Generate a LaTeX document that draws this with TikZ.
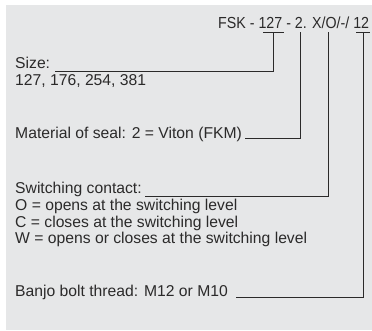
\documentclass[tikz,border=0pt]{standalone}
\usepackage{fontspec}
\setmainfont{Liberation Sans}
\newfontfamily\titlefont[FakeStretch=0.89]{Liberation Sans}
\definecolor{bg}{HTML}{E6E7E8}
\definecolor{ink}{HTML}{2B2A2A}
\begin{document}
\begin{tikzpicture}[x=1pt,y=-1pt,
  lbl/.style={anchor=base west,inner sep=0pt,text=ink,font=\fontsize{15.7}{16.4}\selectfont,align=left},
  ttl/.style={anchor=base west,inner sep=0pt,text=ink,font=\titlefont\fontsize{16}{18}\selectfont},
  lead/.style={draw=ink,line width=0.9pt}]
\useasboundingbox (0,0) rectangle (372,330);
\fill[bg] (6,5) rectangle (372,330);
\node[ttl] (code) at (218,28) {FSK - 127 - 2. X/O/-/ 12};
\coordinate (u1a) at (263,32.3);
\coordinate (u1b) at (284,32.3);
\coordinate (v1) at (273.3,32.3);
\coordinate (v2) at (300,32.3);
\coordinate (v3) at (328.3,32.3);
\coordinate (u4a) at (356,32.3);
\coordinate (u4b) at (370,32.3);
\coordinate (v4) at (363.3,32.3);
\node[lbl] (size) at (15,68.5) {Size:};
\node[lbl] (sizev) at (15,85.5) {127, 176, 254, 381};
\node[lbl] (mat) at (15,138) {Material of seal: 2 = Viton (FKM)};
\node[lbl] (sw) at (15,193.5) {Switching contact:};
\node[lbl] (o) at (15,210.5) {O = opens at the switching level};
\node[lbl] (c) at (15,227) {C = closes at the switching level};
\node[lbl] (w) at (15,243.5) {W = opens or closes at the switching level};
\node[lbl] (banjo) at (15,296) {Banjo bolt thread: M12 or M10};
\draw[lead] (u1a) -- (u1b);
\draw[lead] (u4a) -- (u4b);
\draw[lead] (v1) |- ([xshift=5pt,yshift=-2.5pt]size.base east);
\draw[lead] (v2) |- ([xshift=3pt,yshift=0pt]mat.base east);
\draw[lead] (v3) |- ([xshift=3pt,yshift=-3pt]sw.base east);
\draw[lead] (v4) |- ([xshift=8pt,yshift=-1pt]banjo.base east);
\end{tikzpicture}
\end{document}
